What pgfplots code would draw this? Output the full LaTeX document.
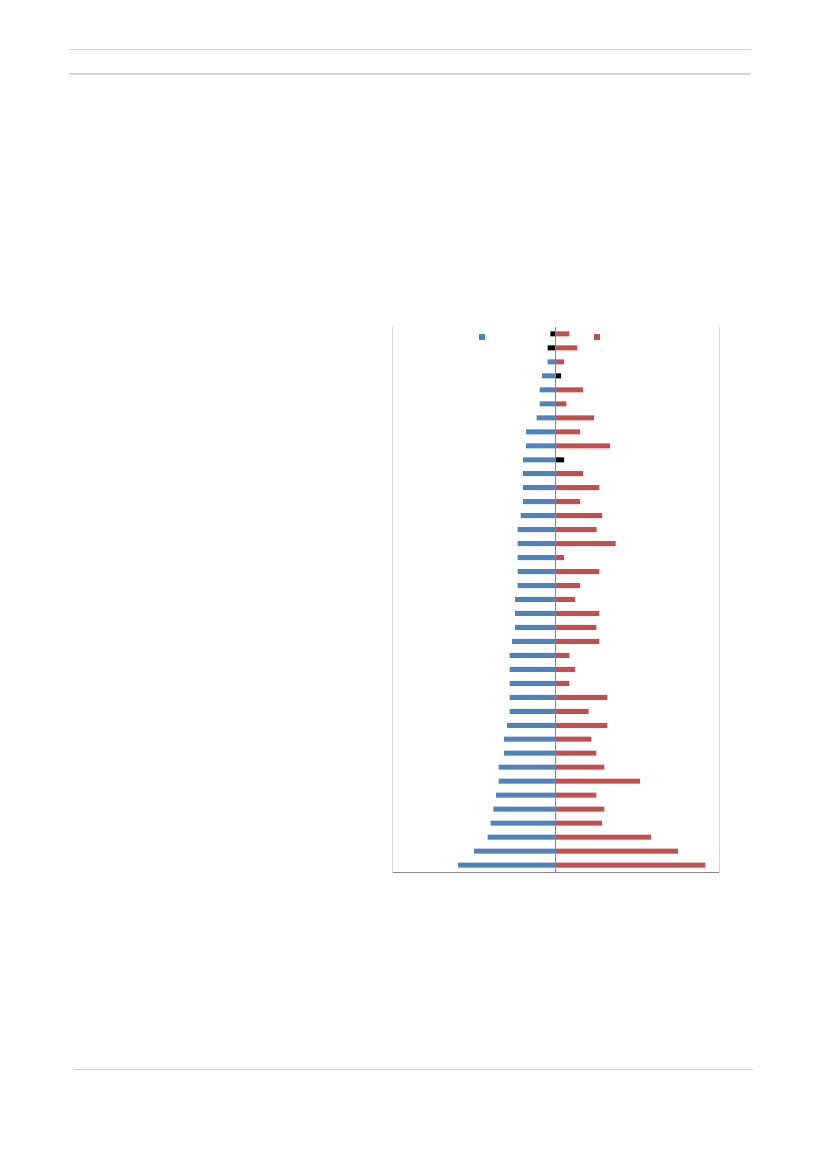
\documentclass[border=0pt]{standalone}
\usepackage{pgfplots}
\pgfplotsset{compat=1.18}
\definecolor{xlblue}{HTML}{4F81BD}
\definecolor{xlred}{HTML}{C0504D}
\definecolor{axgray}{HTML}{868686}
\definecolor{rulegray}{HTML}{CFCFCF}
\begin{document}
\begin{tikzpicture}
  % page frame, 1px = 1pt, y measured from bottom
  \path[use as bounding box] (0pt,0pt) rectangle (827pt,1169pt);
  \draw[rulegray, line width=0.8pt] (70pt,1120pt) -- (751pt,1120pt);
  \draw[rulegray!85, line width=1.3pt] (69pt,1095pt) -- (751pt,1095pt);
  \draw[rulegray, line width=0.8pt] (74pt,100pt) -- (753pt,100pt);

  \begin{axis}[
    at={(392.7pt,297pt)}, anchor=south west,
    scale only axis,
    width=326.6pt, height=545pt,
    xbar, bar width=5pt,
    xmin=-162.6, xmax=164,
    ymin=0.5, ymax=39.5,
    y dir=reverse,
    xtick=\empty, ytick=\empty,
    axis line style={draw=none},
    legend columns=2,
    legend image code/.code={\fill[#1,draw=none] (0pt,-3pt) rectangle (6pt,3pt);},
    legend style={at={(0.264,0.987)}, anchor=north west, draw=none, fill=none,
      inner sep=0pt, column sep=0pt, nodes={inner sep=0pt},
      /tikz/every even column/.append style={column sep=108pt}},
  ]
  \addplot[fill=xlblue, draw=none, bar shift=0pt] coordinates {
    (-7.7,3) (-13.3,4) (-15.7,5) (-15.7,6) (-18.7,7) (-29.3,8) (-29.3,9)
    (-32.3,10) (-32.3,11) (-32.3,12) (-32.3,13) (-34.7,14) (-37.7,15)
    (-37.7,16) (-37.7,17) (-37.7,18) (-37.7,19) (-40.3,20) (-40.3,21)
    (-40.3,22) (-43.3,23) (-45.7,24) (-45.7,25) (-45.7,26) (-45.7,27)
    (-45.7,28) (-48.3,29) (-51.3,30) (-51.3,31) (-56.7,32) (-56.7,33)
    (-59.3,34) (-62,35) (-64.7,36) (-67.7,37) (-81.3,38) (-97.3,39)};
  \addlegendentry{}
  \addplot[fill=xlred, draw=none, bar shift=0pt] coordinates {
    (14,1) (22,2) (8.7,3) (27.7,5) (11,6) (38.7,7) (24.7,8) (54.7,9)
    (27.7,11) (44,12) (24.7,13) (46.7,14) (41.3,15) (60.3,16) (8.7,17)
    (44,18) (24.7,19) (19.7,20) (44,21) (41,22) (44,23) (14,24) (19.7,25)
    (14,26) (52,27) (33.3,28) (52,29) (36,30) (41,31) (49,32) (84.7,33)
    (41,34) (49,35) (46.7,36) (95.7,37) (122.7,38) (150,39)};
  \addlegendentry{}
  \addplot[fill=black, draw=none, bar shift=0pt, forget plot] coordinates {
    (-5,1) (-7.7,2) (5.7,4) (8.7,10)};
  % frame: left, bottom, right and the zero line
  \draw[axgray, line width=0.9pt] (rel axis cs:0,1) -- (rel axis cs:0,0)
    -- (rel axis cs:1,0) -- (rel axis cs:1,1);
  \draw[axgray, line width=0.9pt] (axis cs:0,0.5) -- (axis cs:0,39.5);
  \end{axis}
\end{tikzpicture}
\end{document}
